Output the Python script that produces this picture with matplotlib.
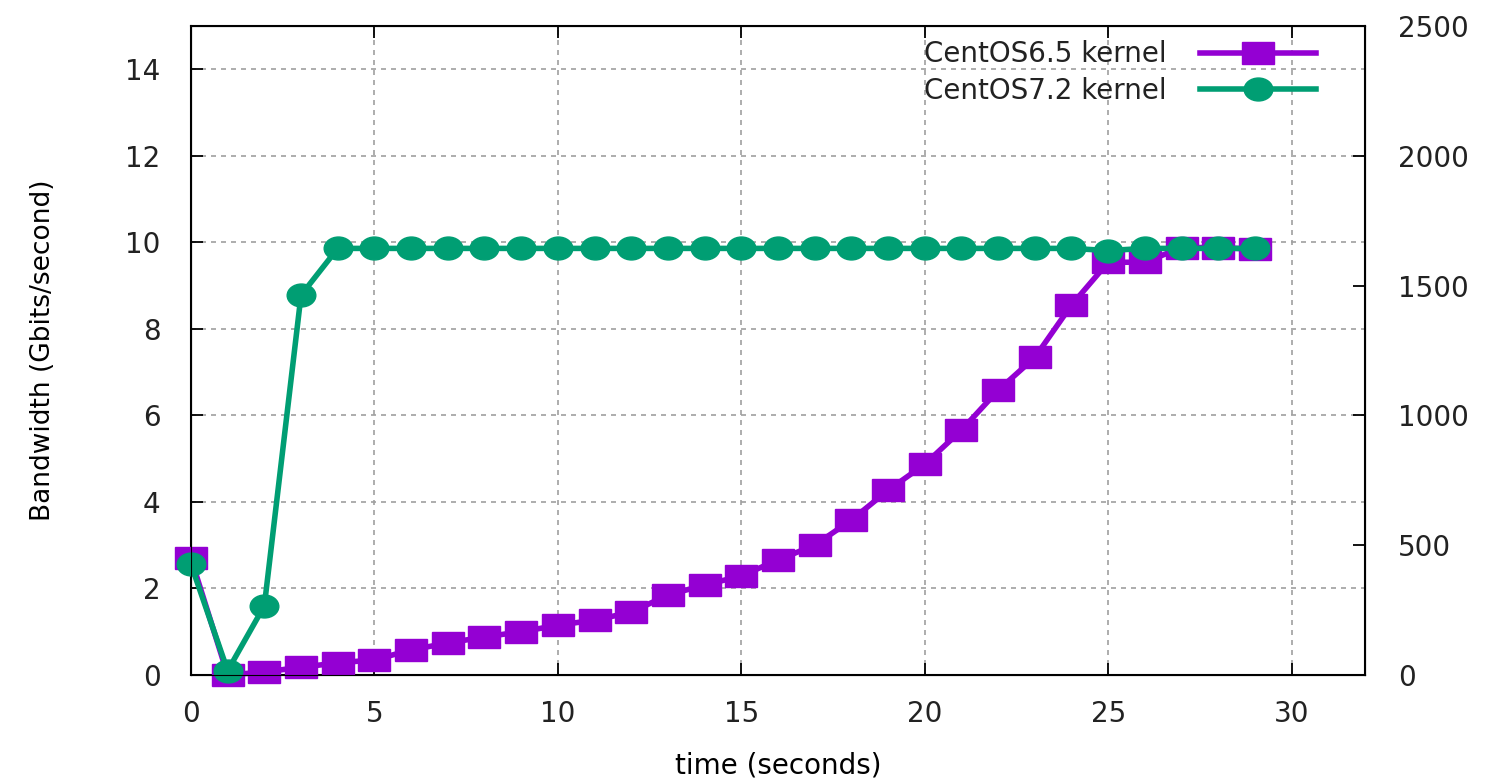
import matplotlib.pyplot as plt
from matplotlib.markers import MarkerStyle
from matplotlib.transforms import Affine2D

time_s = list(range(30))
centos65 = [2.70, 0.00, 0.07, 0.18, 0.28, 0.35, 0.58, 0.74, 0.88, 1.00,
            1.15, 1.27, 1.45, 1.85, 2.08, 2.29, 2.66, 3.00, 3.58, 4.27,
            4.87, 5.66, 6.58, 7.34, 8.55, 9.54, 9.54, 9.88, 9.88, 9.84]
centos72 = [2.56, 0.10, 1.60, 8.78, 9.86, 9.86, 9.86, 9.86, 9.86, 9.86,
            9.86, 9.86, 9.86, 9.86, 9.86, 9.86, 9.86, 9.86, 9.86, 9.86,
            9.86, 9.86, 9.86, 9.86, 9.86, 9.81, 9.86, 9.86, 9.86, 9.86]
labels = ["CentOS6.5 kernel", "CentOS7.2 kernel"]
colors = ["#9400d3", "#009e73"]

plt.rcParams['font.family'] = ['DejaVu Sans']
plt.rcParams['font.size'] = 20
plt.rcParams['text.color'] = '#222222'

fig = plt.figure(figsize=(14.99, 7.81), dpi=100)
ax = fig.add_axes([0.1274, 0.1357, 0.7832, 0.831])

# gnuplot output looks horizontally stretched, so stretch markers a bit too
sq = MarkerStyle('s', transform=Affine2D().scale(1.38, 1.0))
ci = MarkerStyle('o', transform=Affine2D().scale(1.25, 1.0))

ax.plot(time_s, centos65, color=colors[0], lw=4, marker=sq, ms=16.5,
        clip_on=False, label=labels[0], zorder=3)
ax.plot(time_s, centos72, color=colors[1], lw=4, marker=ci, ms=16.5,
        clip_on=False, label=labels[1], zorder=4)

ax.set_xlim(0, 32)
ax.set_ylim(0, 15)
ax.set_xticks(range(0, 31, 5))
ax.set_yticks(range(0, 15, 2))
ax.grid(True, color='#a0a0a0', lw=1.2, ls=(0, (3, 3)))
ax.tick_params(direction='in', length=8.5, width=1.3, top=True, right=False,
               labelcolor='#222222')
ax.tick_params(axis='y', pad=22)
ax.tick_params(axis='x', pad=18)
for s in ax.spines.values():
    s.set_linewidth(1.5)

ax2 = ax.twinx()
ax2.set_ylim(0, 2500)
ax2.set_yticks(range(0, 2501, 500))
ax2.tick_params(direction='in', length=8.5, width=1.3, pad=24,
                labelcolor='#222222')

ax.set_xlabel("time (seconds)", labelpad=17)
ax.set_ylabel("Bandwidth (Gbits/second)", labelpad=50, fontsize=19)

ax.legend(loc='upper right', bbox_to_anchor=(0.968, 0.995), frameon=False,
          markerfirst=False, handlelength=4.2, handletextpad=1.2,
          labelspacing=0.3, borderaxespad=0.0)

fig.savefig("out.png", dpi=100)
